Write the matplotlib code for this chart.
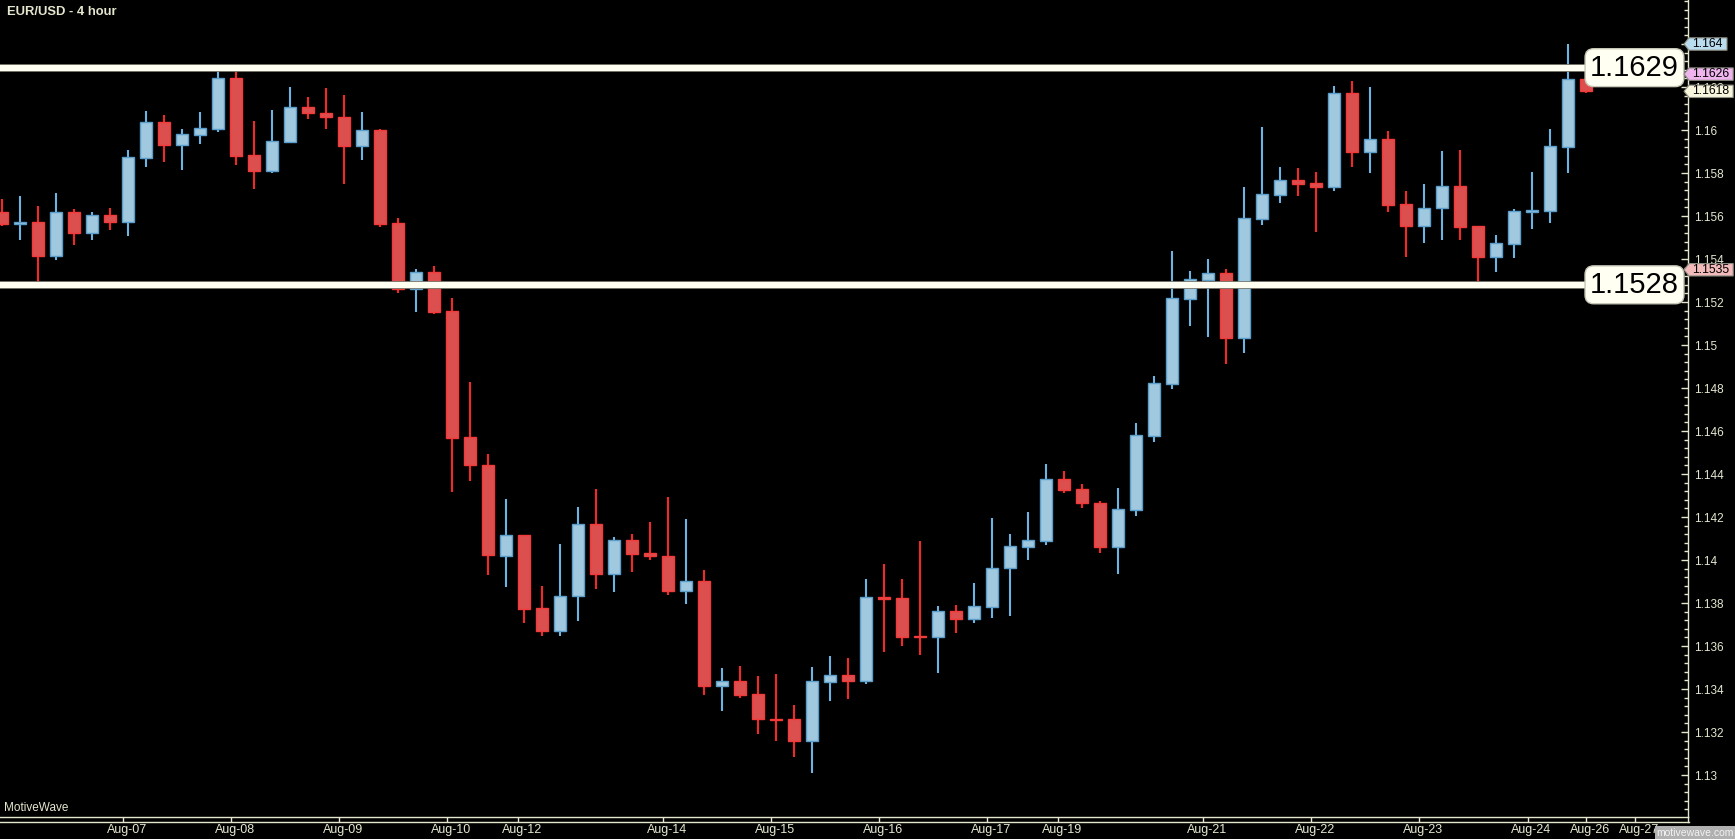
import matplotlib
matplotlib.use('Agg')
import matplotlib.pyplot as plt
import matplotlib.patheffects as pe
from matplotlib.patches import Polygon
from matplotlib.lines import Line2D
from matplotlib.transforms import ScaledTranslation
from matplotlib.ticker import FixedLocator, MultipleLocator, FuncFormatter
import numpy as np

# EUR/USD 4-hour candles
opens = [1.15620, 1.15564, 1.15572, 1.15415, 1.15620, 1.15523, 1.15606, 1.15570, 1.15871, 1.16038,
         1.15932, 1.15979, 1.16007, 1.16240, 1.15883, 1.15809, 1.15946, 1.16105, 1.16081, 1.16061,
         1.15926, 1.16000, 1.15568, 1.15259, 1.15341, 1.15159, 1.14573, 1.14441, 1.14020, 1.14116,
         1.13775, 1.13671, 1.13834, 1.14166, 1.13933, 1.14091, 1.14031, 1.14019, 1.13857, 1.13901,
         1.13412, 1.13436, 1.13377, 1.13259, 1.13259, 1.13160, 1.13434, 1.13464, 1.13439, 1.13826,
         1.13822, 1.13645, 1.13643, 1.13761, 1.13727, 1.13783, 1.13961, 1.14061, 1.14089, 1.14376,
         1.14330, 1.14266, 1.14061, 1.14233, 1.14577, 1.14820, 1.15216, 1.15304, 1.15335, 1.15033,
         1.15588, 1.15699, 1.15768, 1.15753, 1.15734, 1.16173, 1.15896, 1.15957, 1.15656, 1.15555,
         1.15636, 1.15739, 1.15553, 1.15410, 1.15471, 1.15620, 1.15625, 1.15922, 1.16236]
highs = [1.15681, 1.15692, 1.15645, 1.15707, 1.15631, 1.15618, 1.15636, 1.15908, 1.16088, 1.16069,
         1.16004, 1.16083, 1.16280, 1.16280, 1.16042, 1.16092, 1.16202, 1.16153, 1.16196, 1.16162,
         1.16083, 1.16006, 1.15591, 1.15353, 1.15366, 1.15217, 1.14826, 1.14491, 1.14282, 1.14116,
         1.13881, 1.14073, 1.14248, 1.14332, 1.14109, 1.14123, 1.14178, 1.14295, 1.14189, 1.13954,
         1.13496, 1.13509, 1.13462, 1.13468, 1.13324, 1.13501, 1.13555, 1.13546, 1.13913, 1.13983,
         1.13913, 1.14090, 1.13788, 1.13792, 1.13895, 1.14197, 1.14123, 1.14221, 1.14448, 1.14414,
         1.14352, 1.14273, 1.14333, 1.14639, 1.14855, 1.15436, 1.15343, 1.15398, 1.15352, 1.15734,
         1.16013, 1.15827, 1.15822, 1.15803, 1.16204, 1.16226, 1.16198, 1.15997, 1.15718, 1.15748,
         1.15901, 1.15906, 1.15553, 1.15510, 1.15631, 1.15803, 1.16003, 1.16398, 1.16240]
lows = [1.15552, 1.15487, 1.15294, 1.15397, 1.15465, 1.15487, 1.15537, 1.15505, 1.15826, 1.15853,
        1.15815, 1.15937, 1.15993, 1.15835, 1.15726, 1.15802, 1.15946, 1.16051, 1.16006, 1.15750,
        1.15862, 1.15548, 1.15244, 1.15152, 1.15146, 1.14316, 1.14367, 1.13928, 1.13873, 1.13705,
        1.13648, 1.13648, 1.13715, 1.13864, 1.13850, 1.13943, 1.13999, 1.13836, 1.13794, 1.13371,
        1.13296, 1.13358, 1.13191, 1.13158, 1.13082, 1.13008, 1.13343, 1.13352, 1.13422, 1.13571,
        1.13598, 1.13557, 1.13473, 1.13659, 1.13705, 1.13729, 1.13738, 1.14001, 1.14072, 1.14314,
        1.14240, 1.14034, 1.13937, 1.14206, 1.14550, 1.14796, 1.15090, 1.15039, 1.14913, 1.14965,
        1.15557, 1.15661, 1.15691, 1.15524, 1.15718, 1.15830, 1.15799, 1.15617, 1.15410, 1.15476,
        1.15489, 1.15489, 1.15292, 1.15338, 1.15403, 1.15541, 1.15569, 1.15798, 1.16171]
closes = [1.15564, 1.15570, 1.15415, 1.15620, 1.15523, 1.15606, 1.15570, 1.15874, 1.16038, 1.15932,
          1.15982, 1.16009, 1.16240, 1.15880, 1.15809, 1.15948, 1.16105, 1.16078, 1.16060, 1.15926,
          1.16000, 1.15564, 1.15259, 1.15341, 1.15155, 1.14569, 1.14440, 1.14021, 1.14116, 1.13774,
          1.13671, 1.13834, 1.14166, 1.13933, 1.14091, 1.14030, 1.14017, 1.13857, 1.13901, 1.13412,
          1.13436, 1.13374, 1.13259, 1.13254, 1.13160, 1.13436, 1.13464, 1.13439, 1.13826, 1.13820,
          1.13643, 1.13640, 1.13761, 1.13727, 1.13785, 1.13961, 1.14064, 1.14092, 1.14376, 1.14326,
          1.14263, 1.14061, 1.14237, 1.14581, 1.14823, 1.15219, 1.15305, 1.15335, 1.15033, 1.15591,
          1.15703, 1.15768, 1.15751, 1.15734, 1.16173, 1.15896, 1.15957, 1.15653, 1.15555, 1.15636,
          1.15739, 1.15550, 1.15410, 1.15474, 1.15624, 1.15627, 1.15926, 1.16236, 1.16180]

# date ticks (in candle units) and their labels
date_pos = [6.74, 12.74, 18.74, 24.74, 28.69, 36.74, 42.74, 48.74, 54.74, 58.69,
            66.74, 72.75, 78.74, 84.76, 88.01, 90.74]
date_labels = ['Aug-07', 'Aug-08', 'Aug-09', 'Aug-10', 'Aug-12', 'Aug-14', 'Aug-15', 'Aug-16',
               'Aug-17', 'Aug-19', 'Aug-21', 'Aug-22', 'Aug-23', 'Aug-24', 'Aug-26', 'Aug-27']

# support / resistance lines
levels = [1.1629, 1.1528]
level_labels = ['1.1629', '1.1528']

# price tags on the right axis
tag_values = [1.164, 1.1626, 1.1618, 1.1535]
tag_labels = ['1.164', '1.1626', '1.1618', '1.1535']
tag_colors = ['#b9dcef', '#efb4ee', '#f7f5dc', '#f2baba']

plt.rcParams['font.family'] = ['Liberation Sans', 'DejaVu Sans']
cream = '#e6e6cf'

W, H = 1735, 839
fig = plt.figure(figsize=(W / 100, H / 100), dpi=100, facecolor='black')

# main price panel: right axis at x=1688px, bottom axis at y=817px
ax_right = 1688
ax_bottom = 817
ax = fig.add_axes([0, 1 - ax_bottom / H, ax_right / W, ax_bottom / H])
ax.set_facecolor('black')

ymin, ymax = 1.128047, 1.166047
ax.set_ylim(ymin, ymax)
ax.set_xlim(-0.111, 93.667)
ppu = ax_bottom / (ymax - ymin)  # pixels per price unit

o = np.array(opens)
h = np.array(highs)
l = np.array(lows)
c = np.array(closes)
x = np.arange(len(o))
up = c >= o

fill = np.where(up, '#a0c9df', '#dc4f4f')
edge = np.where(up, '#5c9ecb', '#f23a3a')
wick = np.where(up, '#6cb5e3', '#f52828')

ax.vlines(x, l, h, colors=wick, linewidth=1.5, zorder=2)
body = np.maximum(np.abs(c - o), 0.00006)
ax.bar(x, body, bottom=np.minimum(o, c), width=0.68, color=fill,
       edgecolor=edge, linewidth=1.0, zorder=3)

# horizontal level lines with label boxes
for lv, lab in zip(levels, level_labels):
    ax.axhline(lv, xmin=0, xmax=0.94, color='#fffff2', linewidth=4.4, zorder=4,
               path_effects=[pe.Stroke(linewidth=5.6, foreground='#77776c'), pe.Normal()])
    ax.text(0.9683, lv, lab, transform=ax.get_yaxis_transform(), ha='center', va='center',
            fontsize=21, color='black', zorder=6, clip_on=False,
            bbox=dict(boxstyle='round,pad=0.17,rounding_size=0.3', facecolor='#fffff2',
                      edgecolor='#c8c8b8', linewidth=1))

# spines
for s in ['top', 'left']:
    ax.spines[s].set_visible(False)
ax.spines['right'].set_color(cream)
ax.spines['bottom'].set_color(cream)
ax.spines['right'].set_linewidth(1)
ax.spines['bottom'].set_linewidth(1)

# y axis on the right
ax.yaxis.tick_right()
ax.yaxis.set_major_locator(FixedLocator(np.arange(1.130, 1.1641, 0.002)))
ax.yaxis.set_minor_locator(MultipleLocator(0.0004))
ax.yaxis.set_major_formatter(FuncFormatter(lambda v, _: ('%.3f' % v).rstrip('0').rstrip('.')))
ax.tick_params(axis='y', which='major', direction='in', length=5, width=1, color=cream,
               labelcolor=cream, labelsize=8.5, pad=4)
ax.tick_params(axis='y', which='minor', direction='in', length=3, width=1, color=cream)

# x axis with dates (labels sit a little right of their tick)
ax.set_xticks(date_pos)
ax.set_xticklabels(date_labels)
ax.tick_params(axis='x', direction='out', length=3.6, width=1, color=cream,
               labelcolor=cream, labelsize=9, pad=1.5)
shift = ScaledTranslation(3.5 / 100, 0, fig.dpi_scale_trans)
for t in ax.get_xticklabels():
    t.set_transform(t.get_transform() + shift)

# second bottom rule line
fig.add_artist(Line2D([0, (ax_right + 1) / W], [1 - 822 / H, 1 - 822 / H],
                      transform=fig.transFigure, color=cream, linewidth=1))
fig.add_artist(Line2D([ax_right / W, ax_right / W], [1 - 822 / H, 1 - ax_bottom / H],
                      transform=fig.transFigure, color=cream, linewidth=1))

# price tags panel
tag_left = 1683
axt = fig.add_axes([tag_left / W, 1 - ax_bottom / H, (W - tag_left) / W, ax_bottom / H])
axt.set_xlim(0, W - tag_left)
axt.set_ylim(ymin, ymax)
axt.axis('off')
axt.patch.set_visible(False)
hh = 6.2 / ppu
for v, lab, col in zip(tag_values, tag_labels, tag_colors):
    w = 13 + 6.2 * len(lab)
    poly = Polygon([(1, v), (6, v + hh), (w, v + hh), (w, v - hh), (6, v - hh)],
                   closed=True, facecolor=col, edgecolor='#8c8c80', linewidth=0.8, zorder=5)
    axt.add_patch(poly)
    axt.text(9.5, v, lab, ha='left', va='center', fontsize=8.8, color='black', zorder=6)

# title and branding
fig.text(7 / W, 1 - 12 / H, 'EUR/USD - 4 hour', color=cream, fontsize=9.4,
         fontweight='bold', ha='left', va='center')
fig.text(4 / W, 1 - 808 / H, 'MotiveWave', color=cream, fontsize=8.5, ha='left', va='center')
fig.text(1695 / W, 1 - 832.5 / H, 'motivewave.com', color='#f2f2f2', fontsize=7.5,
         ha='center', va='center', zorder=10,
         bbox=dict(boxstyle='square,pad=0.15', facecolor='#b0b0b0', edgecolor='none'))

plt.savefig('out.png', dpi=100, facecolor='black')
